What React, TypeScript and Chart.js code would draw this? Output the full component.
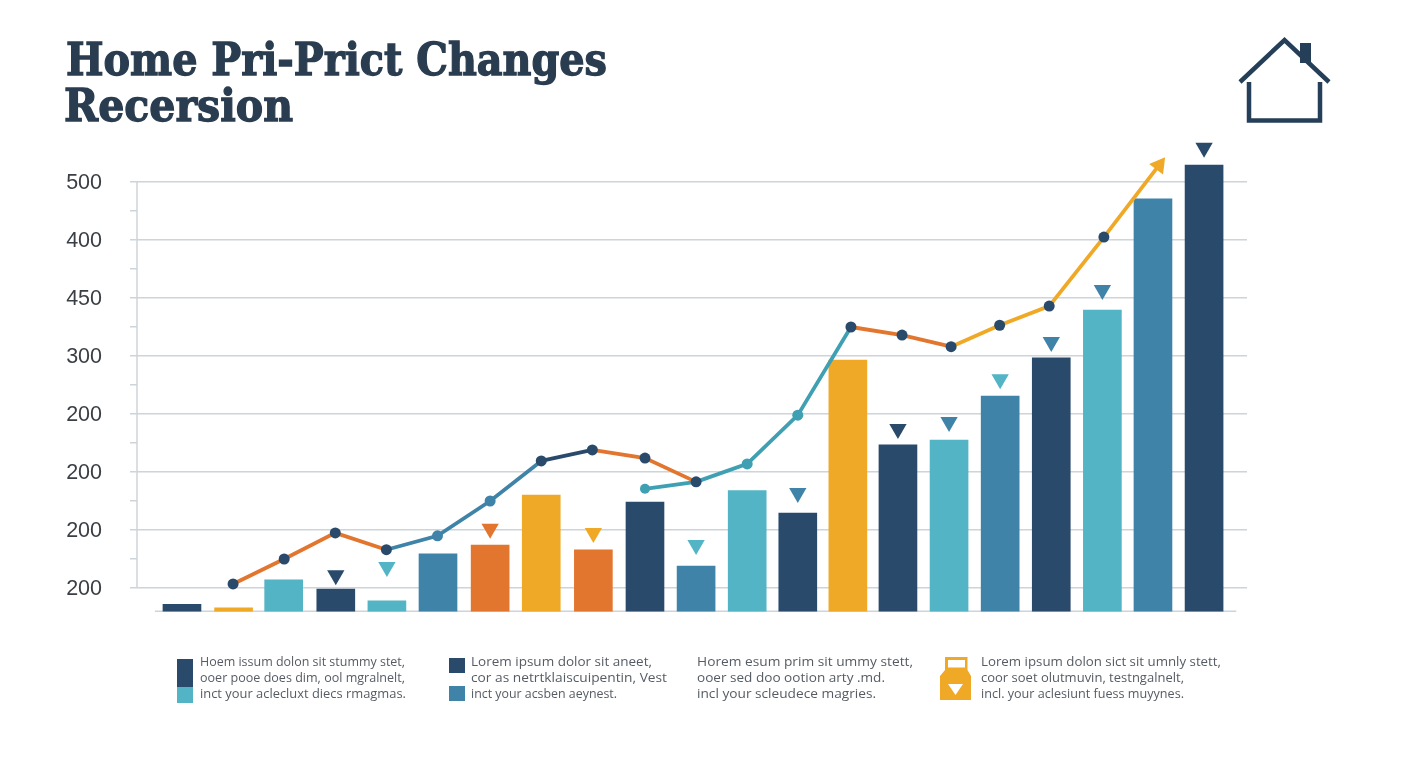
import React, { useEffect, useRef } from "react";
import { Chart, registerables } from "chart.js";

Chart.register(...registerables);

const NAVY = "#2a4a6b";
const AMBER = "#f0a927";
const TEAL = "#52b4c4";
const STEEL = "#3f83a8";
const ORANGE = "#e2762f";
const CYAN_LINE = "#3f9fb3";
const GRID = "#cdd4da";

const titleLines = ["Home Pri-Prict Changes", "Recersion"];
const yTickLabels = ["200", "200", "200", "200", "300", "450", "400", "500"];

const barPositions = [0, 1.01, 1.99, 3.01, 4.01, 5.01, 6.03, 7.03, 8.05, 9.06, 10.06, 11.06, 12.05, 13.03, 14.01, 15.01, 16.01, 17.01, 18.01, 19, 20];
const barValues = [-28, -34, 14, -2, -22, 59, 74, 160, 66, 148, 38, 168, 129, 393, 247, 255, 331, 397, 479, 671, 729];
const barColors = [NAVY, AMBER, TEAL, NAVY, TEAL, STEEL, ORANGE, AMBER, ORANGE, NAVY, STEEL, TEAL, NAVY, AMBER, NAVY, TEAL, STEEL, NAVY, TEAL, STEEL, NAVY];

const lineX = [1, 2, 3, 4, 5, 6.03, 7.03, 8.03, 9.06, 10.06, 11.06, 12.05, 13.09, 14.09, 15.05, 16, 16.97, 18.04, 19.12];
const lineY = [7, 50, 95, 66, 90, 150, 219, 238, 224, 183, 214, 298, 450, 436, 416, 453, 486, 605, 729];
const lineSegmentColors = [ORANGE, ORANGE, ORANGE, STEEL, STEEL, STEEL, NAVY, ORANGE, ORANGE, CYAN_LINE, CYAN_LINE, CYAN_LINE, ORANGE, ORANGE, AMBER, AMBER, AMBER, AMBER];
const linePointColors = [NAVY, NAVY, NAVY, NAVY, STEEL, STEEL, NAVY, NAVY, NAVY, NAVY, CYAN_LINE, CYAN_LINE, NAVY, NAVY, NAVY, NAVY, NAVY, NAVY, AMBER];
const linePointRadius = [5.5, 5.5, 5.5, 5.5, 5.5, 5.5, 5.5, 5.5, 5.5, 5.5, 5.5, 5.5, 5.5, 5.5, 5.5, 5.5, 5.5, 5.5, 0];

const branchX = [9.06, 10.06];
const branchY = [171, 183];

const arrowX = [19.12];
const arrowY = [729];

const markerX = [3.01, 4.01, 6.03, 8.05, 10.06, 12.05, 14.01, 15.01, 16.01, 17.01, 18.01, 20];
const markerY = [22, 36, 102, 95, 74, 164, 274, 286, 360, 424, 514, 759];
const markerColors = [NAVY, TEAL, ORANGE, AMBER, TEAL, STEEL, NAVY, STEEL, TEAL, STEEL, STEEL, NAVY];

const baselineX = [-0.53, 20.63];
const baselineY = [-40, -40];
const axisLineX = [-0.88, -0.88];
const axisLineY = [0, 700];

const legendGroups = [
  { x: 200, lines: ["Hoem issum dolon sit stummy stet,", "ooer pooe does dim, ool mgralnelt,", "inct your aclecluxt diecs rmagmas."], widths: [205, 205, 206] },
  { x: 471, lines: ["Lorem ipsum dolor sit aneet,", "cor as netrtklaiscuipentin, Vest", "inct your acsben aeynest."], widths: [181, 196, 146] },
  { x: 697, lines: ["Horem esum prim sit ummy stett,", "ooer sed doo ootion arty .md.", "incl your scleudece magries."], widths: [216, 188, 179] },
  { x: 981, lines: ["Lorem ipsum dolon sict sit umnly stett,", "coor soet olutmuvin, testngalnelt,", "incl. your aclesiunt fuess muyynes."], widths: [240, 203, 203] },
];

function zip(xs: number[], ys: number[]) {
  return xs.map((x, i) => ({ x, y: ys[i] }));
}

export default function App() {
  const ref = useRef<HTMLCanvasElement>(null);
  useEffect(() => {
    const chart = new Chart(ref.current!, {
      type: "bar",
      data: {
        datasets: [
          {
            type: "line",
            data: zip(arrowX, arrowY),
            showLine: false,
            pointStyle: "triangle",
            pointRadius: 10,
            rotation: 37,
            pointBackgroundColor: AMBER,
            pointBorderWidth: 0,
            clip: false,
            order: 1,
          },
          {
            type: "line",
            data: zip(markerX, markerY),
            showLine: false,
            pointStyle: "triangle",
            pointRadius: 10,
            rotation: 180,
            pointBackgroundColor: markerColors,
            pointBorderWidth: 0,
            clip: false,
            order: 1,
          },
          {
            type: "line",
            data: zip(lineX, lineY),
            borderWidth: 3.8,
            borderColor: ORANGE,
            tension: 0,
            segment: { borderColor: (c: any) => lineSegmentColors[c.p0DataIndex] },
            pointRadius: linePointRadius,
            pointBackgroundColor: linePointColors,
            pointBorderWidth: 0,
            clip: false,
            order: 2,
          },
          {
            type: "line",
            data: zip(branchX, branchY),
            borderWidth: 3.8,
            borderColor: CYAN_LINE,
            tension: 0,
            pointRadius: [5, 0],
            pointBackgroundColor: CYAN_LINE,
            pointBorderWidth: 0,
            clip: false,
            order: 3,
          },
          {
            type: "line",
            data: zip(baselineX, baselineY),
            borderWidth: 1.5,
            borderColor: GRID,
            pointRadius: 0,
            clip: false,
            order: 5,
          },
          {
            type: "line",
            data: zip(axisLineX, axisLineY),
            borderWidth: 1.5,
            borderColor: GRID,
            pointRadius: 0,
            clip: false,
            order: 6,
          },
          {
            type: "bar",
            data: zip(barPositions, barValues),
            backgroundColor: barColors,
            barThickness: 38,
            base: -40,
            clip: false,
            order: 4,
          },
        ] as any,
      },
      options: {
        animation: false,
        responsive: false,
        devicePixelRatio: 1,
        layout: { padding: { left: 60, top: 124, right: 161, bottom: 180 } },
        plugins: { legend: { display: false }, tooltip: { enabled: false }, title: { display: false } },
        scales: {
          x: { type: "linear", display: false, offset: false, min: -0.88, max: 20.84, grid: { display: false } },
          y: {
            min: 0,
            max: 800,
            afterFit: (s: any) => {
              s.width = 77;
            },
            afterBuildTicks: (s: any) => {
              s.ticks = s.ticks.filter((t: any) => t.value <= 700);
            },
            border: { display: false },
            grid: {
              lineWidth: 1.5,
              tickLength: 7,
              color: (c: any) => (c.tick.value % 100 === 0 ? GRID : "rgba(0,0,0,0)"),
              tickColor: GRID,
            },
            ticks: {
              stepSize: 50,
              autoSkip: false,
              maxTicksLimit: 30,
              padding: 28,
              labelOffset: 1.5,
              color: "#3a3f45",
              font: { family: "'Liberation Sans'", size: 21.5 },
              callback: (v: any) => (v % 100 === 0 ? yTickLabels[v / 100] : ""),
            },
          },
        },
      },
    } as any);
    return () => chart.destroy();
  }, []);

  const box = (left: number, top: number, w: number, h: number, bg: string) => (
    <div style={{ position: "absolute", left, top, width: w, height: h, background: bg }} />
  );

  return (
    <div style={{ position: "fixed", left: 0, top: 0, width: 1408, height: 768, background: "#fff", overflow: "hidden" }}>
      <canvas ref={ref} width={1408} height={768} style={{ position: "absolute", left: 0, top: 0, width: 1408, height: 768 }} />
      {box(177, 659, 16, 28, NAVY)}
      {box(177, 687, 16, 16, TEAL)}
      {box(449, 658, 16, 15, NAVY)}
      {box(449, 686, 16, 15, STEEL)}
      <svg width={1408} height={768} style={{ position: "absolute", left: 0, top: 0, pointerEvents: "none" }}>
        <text
          x={66}
          y={75}
          textLength={541}
          lengthAdjust="spacingAndGlyphs"
          fill="#2a3d50"
          stroke="#2a3d50"
          strokeWidth={1.3}
          style={{ font: "bold 44px 'DejaVu Serif'" }}
        >
          {titleLines[0]}
        </text>
        <text
          x={64}
          y={121}
          textLength={229}
          lengthAdjust="spacingAndGlyphs"
          fill="#2a3d50"
          stroke="#2a3d50"
          strokeWidth={1.3}
          style={{ font: "bold 44px 'DejaVu Serif'" }}
        >
          {titleLines[1]}
        </text>
        {legendGroups.map((g) =>
          g.lines.map((l, i) => (
            <text
              key={g.x + l}
              x={g.x}
              y={665.5 + i * 16.2}
              textLength={g.widths[i]}
              lengthAdjust="spacingAndGlyphs"
              fill="#565c64"
              style={{ font: "13.4px 'Open Sans'" }}
            >
              {l}
            </text>
          ))
        )}
        <path d="M1240 82 L1284.5 40 L1329 82" fill="none" stroke="#243f57" strokeWidth={4.5} />
        <rect x={1300} y={43} width={11} height={20} fill="#243f57" />
        <path d="M1249 82 V120.5 H1320 V82" fill="none" stroke="#243f57" strokeWidth={4.5} />
        <path d="M945 657 H967.5 V670 L971 676 V700 H940 V676 L945 670 Z" fill={AMBER} />
        <rect x={948} y={660} width={17} height={7.5} fill="#fff" />
        <path d="M948 684 H963 L955.5 695 Z" fill="#fff" />
      </svg>
    </div>
  );
}
